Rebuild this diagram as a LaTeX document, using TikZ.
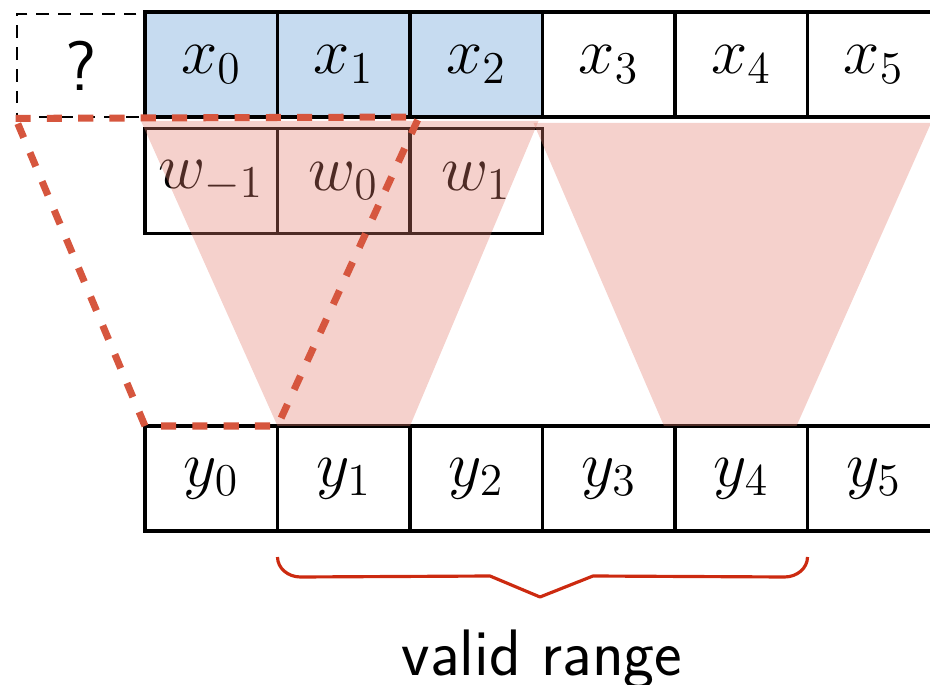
\RequirePackage{fix-cm}
\documentclass[tikz,border=0pt]{standalone}
\usepackage{amsmath,amssymb}
\usepackage{xcolor}
\usepackage{tikz}
\usetikzlibrary{calc}
\usetikzlibrary{positioning}

\definecolor{cellblue}{RGB}{198,219,240}
\definecolor{convred}{RGB}{226,124,108}
\definecolor{edgered}{RGB}{214,86,62}
\definecolor{bracered}{RGB}{204,42,16}

\begin{document}
\begin{tikzpicture}[
    cell/.style={draw, line width=0.95pt, minimum width=1.325cm, minimum height=1.05cm,
                 inner sep=0pt, outer sep=0pt, font=\fontsize{18.5}{20}\selectfont},
    qbox/.style={draw, line width=0.8pt, dash pattern=on 3.6pt off 2.6pt,
                 minimum width=1.28cm, minimum height=1.03cm, inner sep=0pt,
                 font=\fontsize{20}{22}\selectfont\sffamily},
    conv/.style={fill=convred, fill opacity=0.35},
    pad/.style={draw=edgered, line width=2pt, dash pattern=on 4.3pt off 4.6pt},
  ]
  \def\cw{1.325}
  \useasboundingbox (0,0) rectangle (9.3,-6.85);
  \clip (0,0) rectangle (9.3,-6.85);

  % input row
  \foreach \i in {0,...,5}{
    \ifnum\i<3
      \node[cell, fill=cellblue] (x\i) at ({1.45+\cw*(\i+0.5)},-0.645) {$x_{\i}$};
    \else
      \node[cell] (x\i) at ({1.45+\cw*(\i+0.5)},-0.645) {$x_{\i}$};
    \fi
  }
  \node[qbox] (q) at (0.81,-0.655) {?};

  % kernel
  \foreach \i/\lab in {0/{-1},1/0,2/1}{
    \node[cell] (w\i) at ({1.45+\cw*(\i+0.5)},-1.81) {$w_{\lab}$};
  }

  % output row
  \foreach \i in {0,...,5}{
    \node[cell] (y\i) at ({1.45+\cw*(\i+0.5)},-4.785) {$y_{\i}$};
  }

  % receptive fields
  \fill[conv] ($(x0.south west)+(-0.04,-0.04)$) -- ($(x2.south east)+(-0.04,-0.04)$)
    -- (y2.north west) -- (y1.north west) -- cycle;
  \fill[conv] ($(x3.south west)+(-0.09,-0.06)$) -- ($(x5.south east)+(-0.09,-0.06)$)
    -- ($(y4.north east)+(-0.11,0)$) -- ($(y4.north west)+(-0.11,0)$) -- cycle;

  % padded window
  \draw[pad] (q.south west) -- ($(x2.south west)+(0.09,0)$)
    -- (y1.north west) -- (y0.north west) -- cycle;

  % brace
  \coordinate (bl) at ($(y1.south west)+(0,-0.26)$);
  \coordinate (br) at ($(y4.south east)+(0,-0.26)$);
  \coordinate (tip) at (5.40,-5.97);
  \draw[bracered, line width=0.9pt, line join=round]
    (bl) arc (180:270:0.23 and 0.2) -- (4.90,-5.76) -- (tip) -- (5.93,-5.76)
    -- ($(br)+(-0.23,-0.2)$) arc (270:360:0.23 and 0.2);
  \node[anchor=base, font=\fontsize{18.7}{22}\selectfont\sffamily] (vr) at (5.42,-6.75) {valid range};
\end{tikzpicture}
\end{document}
